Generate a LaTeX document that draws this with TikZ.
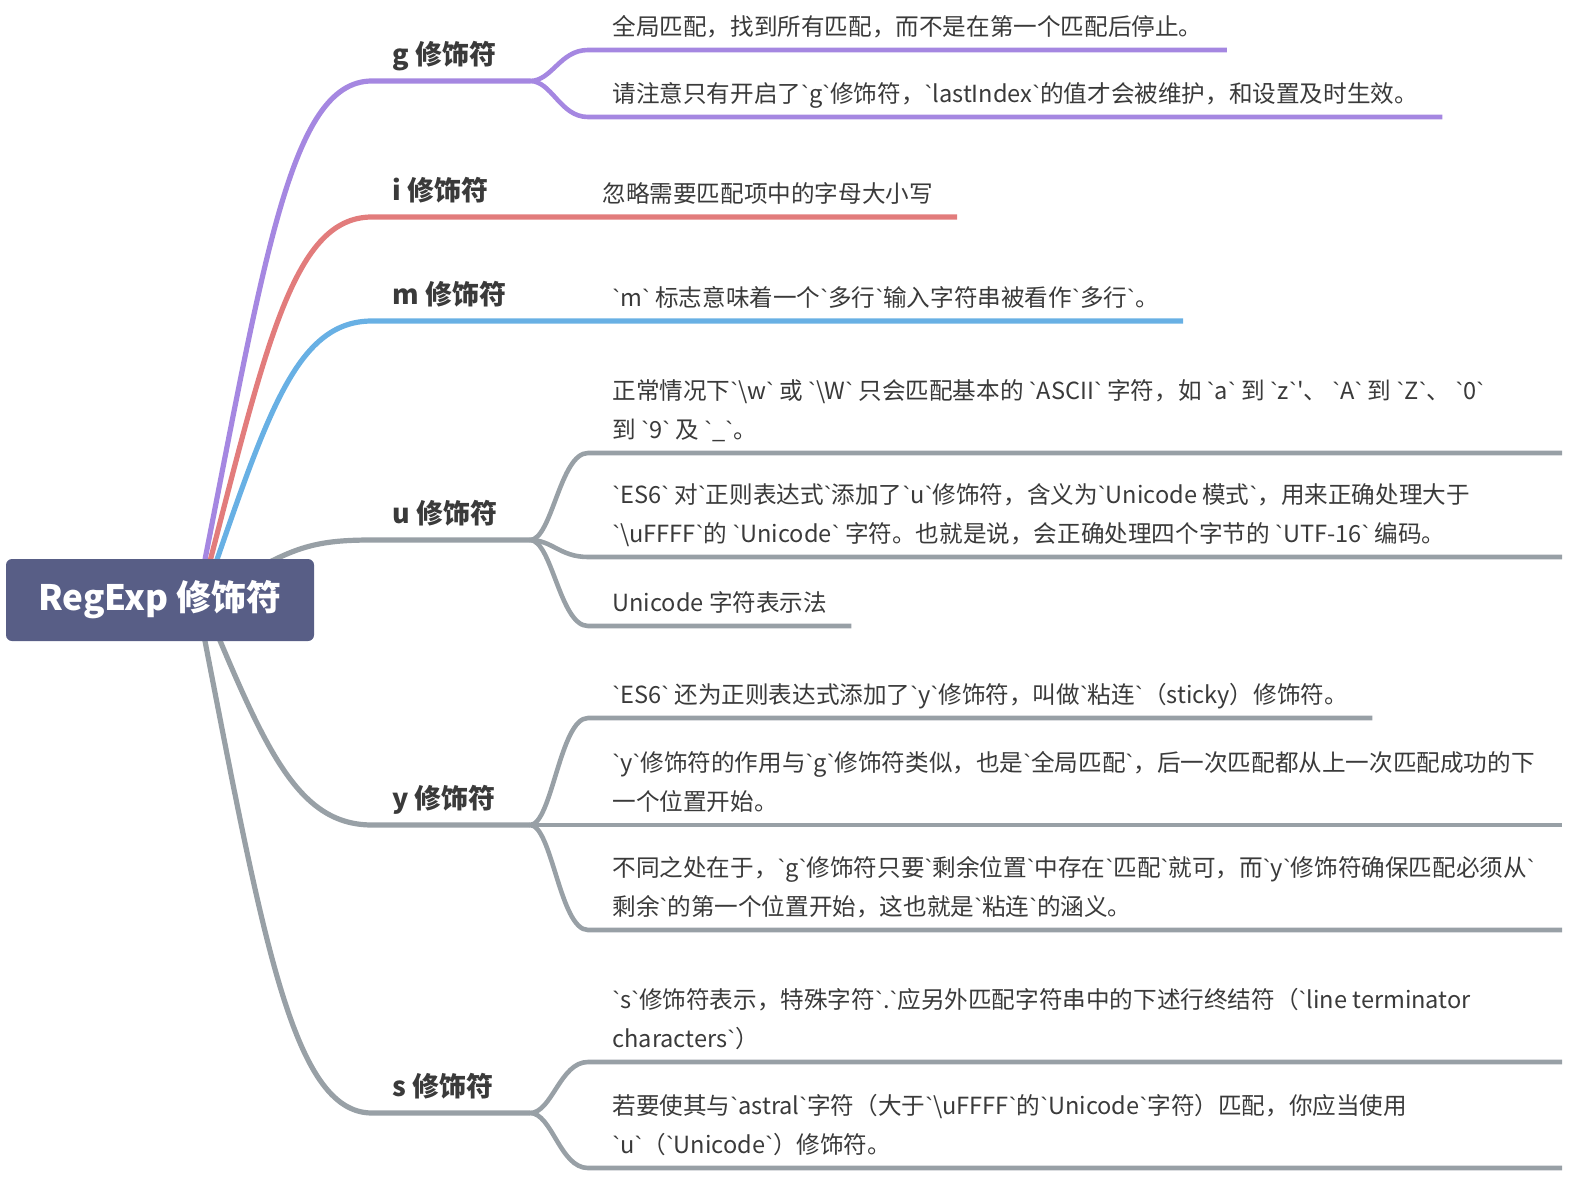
\documentclass[tikz,border=0pt]{standalone}
\usepackage{fontspec}
\setmainfont{Noto Sans CJK SC}[Ligatures=TeXOff]
\newfontfamily\bqfont{Liberation Sans}[Ligatures=TeXOff]
\definecolor{cpurple}{HTML}{A587E1}
\definecolor{cred}{HTML}{E27C7C}
\definecolor{cblue}{HTML}{68B0E4}
\definecolor{cgray}{HTML}{98A0A6}
\definecolor{croot}{HTML}{585E86}
\definecolor{ctext}{HTML}{3A3A3A}
\newcommand\bksl{\textbackslash}
% narrow backquote
\begingroup\lccode`\~=`\` \lowercase{\endgroup\def~}{{\bqfont\char"60}}
\tikzset{
  root/.style={fill=croot, rounded corners=3pt, text=white, minimum width=154pt, minimum height=41pt,
    font=\fontsize{17.5}{20}\selectfont\bfseries},
  topic/.style={anchor=south west, inner xsep=10pt, inner ysep=5pt, text depth=3pt, text=ctext,
    font=\fontsize{13.5}{16}\selectfont\bfseries},
  leaf/.style={anchor=south west, inner xsep=12pt, inner ysep=4pt, text depth=3pt, align=left, text=ctext,
    font=\fontsize{11.8}{19.5}\selectfont},
  trunk/.style={line width=2.6pt},
  twig/.style={line width=2.3pt},
}
\begin{document}
\catcode`\`=\active
\begin{tikzpicture}[x=0.5pt,y=-0.5pt]
\useasboundingbox (0,0) rectangle (1594,1192);
% first level
\node[topic] (g) at (372,81) {g 修饰符};
\node[topic] (i) at (372,217) {i 修饰符};
\node[topic] (m) at (372,321) {m 修饰符};
\node[topic] (u) at (372,540) {u 修饰符};
\node[topic] (y) at (372,825) {y 修饰符};
\node[topic] (s) at (372,1113) {s 修饰符};
% forks, start points under the root
\foreach \name/\ypos in {g/81,u/540,y/825,s/1113}
  \coordinate (\name-f) at (530,\ypos);
\coordinate (rim) at (1562,0);
\coordinate (rg) at (197,600);
\coordinate (ri) at (200,600);
\coordinate (rm) at (203,600);
\coordinate (ru) at (232,583);
\coordinate (ry) at (203,600);
\coordinate (rs) at (197,600);
% second level
\node[leaf] (g1) at (588,50) {全局匹配，找到所有匹配，而不是在第一个匹配后停止。};
\node[leaf] (g2) at (588,117) {请注意只有开启了`g`修饰符，`lastIndex`的值才会被维护，和设置及时生效。};
\node[leaf] (i1) at (578,217) {忽略需要匹配项中的字母大小写};
\node[leaf] (m1) at (588,321) {`m` 标志意味着一个`多行`输入字符串被看作`多行`。};
\node[leaf] (u1) at (588,453) {正常情况下`\bksl w` 或 `\bksl W` 只会匹配基本的 `ASCII` 字符，如 `a` 到 `z`'、 `A` 到 `Z`、 `0`\\
  到 `9` 及 `\_`。};
\node[leaf] (u2) at (588,557) {`ES6` 对`正则表达式`添加了`u`修饰符，含义为`Unicode 模式`，用来正确处理大于\\
  `\bksl uFFFF`的 `Unicode` 字符。也就是说，会正确处理四个字节的 `UTF-16` 编码。};
\node[leaf] (u3) at (588,626) {Unicode 字符表示法};
\node[leaf] (y1) at (588,718) {`ES6` 还为正则表达式添加了`y`修饰符，叫做`粘连`（sticky）修饰符。};
\node[leaf] (y2) at (588,825) {`y`修饰符的作用与`g`修饰符类似，也是`全局匹配`，后一次匹配都从上一次匹配成功的下\\
  一个位置开始。};
\node[leaf] (y3) at (588,930) {不同之处在于，`g`修饰符只要`剩余位置`中存在`匹配`就可，而`y`修饰符确保匹配必须从`\\
  剩余`的第一个位置开始，这也就是`粘连`的涵义。};
\node[leaf] (s1) at (588,1062) {`s`修饰符表示，特殊字符`.`应另外匹配字符串中的下述行终结符（`line terminator\\
  characters`）};
\node[leaf] (s2) at (588,1168) {若要使其与`astral`字符（大于`\bksl uFFFF`的`Unicode`字符）匹配，你应当使用\\
  `u`（`Unicode`）修饰符。};
% root to first level
\draw[trunk,cpurple] (rg) .. controls +(67,-337) and +(-83,0) .. (g.south west) -- (g-f);
\draw[trunk,cred] (ri) .. controls +(65,-249) and +(-81,0) .. (i.south west) -- (i1.south east);
\draw[trunk,cblue] (rm) .. controls +(63,-181) and +(-78,0) .. (m.south west) -- (m1.south east);
\draw[trunk,cgray] (ru) .. controls +(60,-35) and +(-60,0) .. (u.south west) -- (u-f);
\draw[trunk,cgray] (ry) .. controls +(61,146) and +(-76,0) .. (y.south west) -- (y-f);
\draw[trunk,cgray] (rs) .. controls +(65,333) and +(-81,0) .. (s.south west) -- (s-f);
% first level to second level
\foreach \c in {g1,g2}
  \draw[twig,cpurple] (g-f) .. controls +(22,0) and +(-28,0) .. (\c.south west) -- (\c.south east);
\foreach \c/\f/\e in {u1/u/rim,u2/u/rim,u3/u/u3.south east,y1/y/y1.south east,y2/y/rim,y3/y/rim,s1/s/rim,s2/s/rim}
  \draw[twig,cgray] (\f-f) .. controls +(22,0) and +(-28,0) .. (\c.south west) -- (\c.south west -| \e);
\node[root] (root) at (160,600) {RegExp 修饰符};
\end{tikzpicture}
\end{document}
